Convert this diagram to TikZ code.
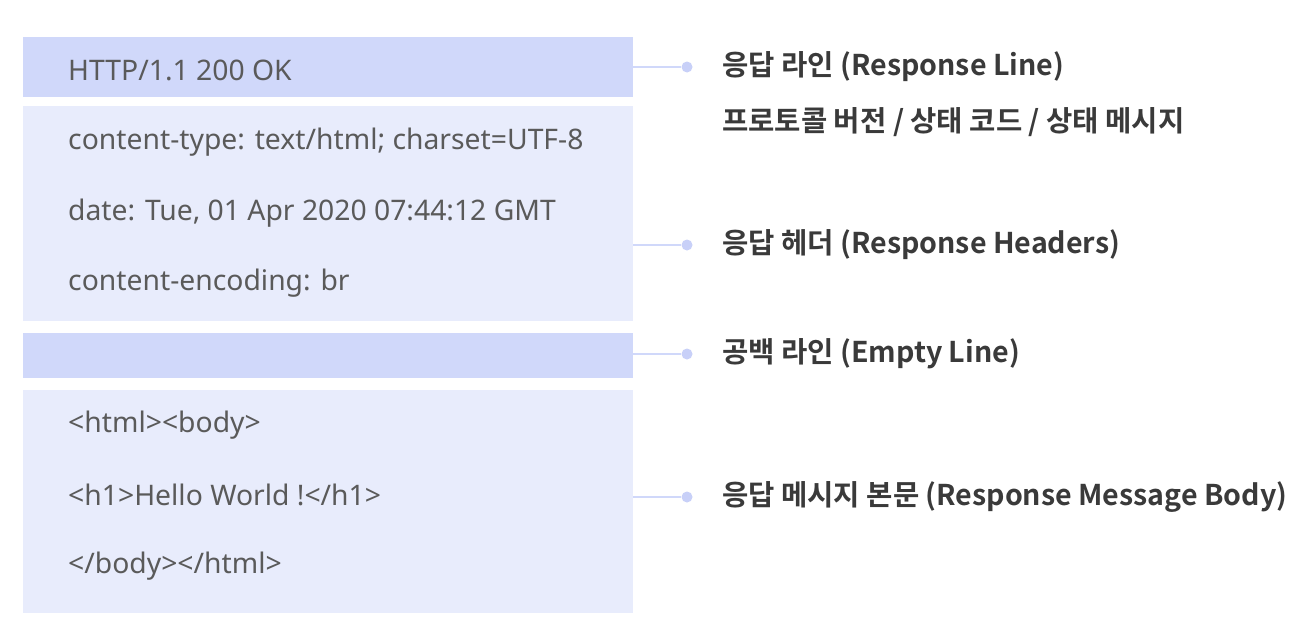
\documentclass[tikz,border=0pt]{standalone}
\usepackage{fontspec}
\setmainfont{Noto Sans}
\newfontfamily\kr{Noto Sans CJK KR}[BoldFont={Noto Sans CJK KR Bold}]
\definecolor{dark}{HTML}{D0D8FA}
\definecolor{light}{HTML}{E8ECFC}
\definecolor{dotc}{HTML}{C8D0F8}
\definecolor{txt}{HTML}{5A5A5A}
\definecolor{lbl}{HTML}{3A3A3A}
\begin{document}
\begin{tikzpicture}[x=1pt,y=-1pt,
  boxd/.style={fill=dark,draw=none},
  boxl/.style={fill=light,draw=none},
  code/.style={anchor=west,inner sep=0pt,text=txt,font=\fontsize{28.3}{32}\selectfont},
  lab/.style={anchor=west,inner sep=0pt,text=lbl,font=\kr\bfseries\fontsize{28.6}{32}\selectfont},
  conn/.style={draw=dark,line width=1.2pt},
  dot/.style={circle,fill=dotc,minimum size=11pt,inner sep=0pt}]
\useasboundingbox (0,0) rectangle (1302,640);
\fill[white] (0,0) rectangle (1302,640);
\path[boxd] (23,37) rectangle (633,97);
\path[boxl] (23,106) rectangle (633,321);
\path[boxd] (23,333) rectangle (633,378);
\path[boxl] (23,390) rectangle (633,613);
\node[code] (t1) at (68,70) {HTTP/1.1 200 OK};
\node[code] (t2) at (68,142) {content-type: text/html; charset=UTF-8};
\node[code] (t3) at (68,213) {date: Tue, 01 Apr 2020 07:44:12 GMT};
\node[code] (t4) at (68,283) {content-encoding: br};
\node[code] (t5) at (68,425) {<html><body>};
\node[code] (t6) at (68,495) {<h1>Hello World !</h1>};
\node[code] (t7) at (68,566) {</body></html>};
\coordinate (s1) at (633,67);
\coordinate (s2) at (633,245);
\coordinate (s3) at (633,354);
\coordinate (s4) at (633,497);
\node[dot] (d1) at (687,67) {};
\node[dot] (d2) at (687,245) {};
\node[dot] (d3) at (687,354) {};
\node[dot] (d4) at (687,497) {};
\draw[conn] (s1) -- (d1);
\draw[conn] (s2) -- (d2);
\draw[conn] (s3) -- (d3);
\draw[conn] (s4) -- (d4);
\node[lab] (l1) at (722,67) {응답 라인 (Response Line)};
\node[lab] (l1b) at (722,122) {프로토콜 버전 / 상태 코드 / 상태 메시지};
\node[lab] (l2) at (722,245) {응답 헤더 (Response Headers)};
\node[lab] (l3) at (722,354) {공백 라인 (Empty Line)};
\node[lab] (l4) at (722,497) {응답 메시지 본문 (Response Message Body)};
\end{tikzpicture}
\end{document}
